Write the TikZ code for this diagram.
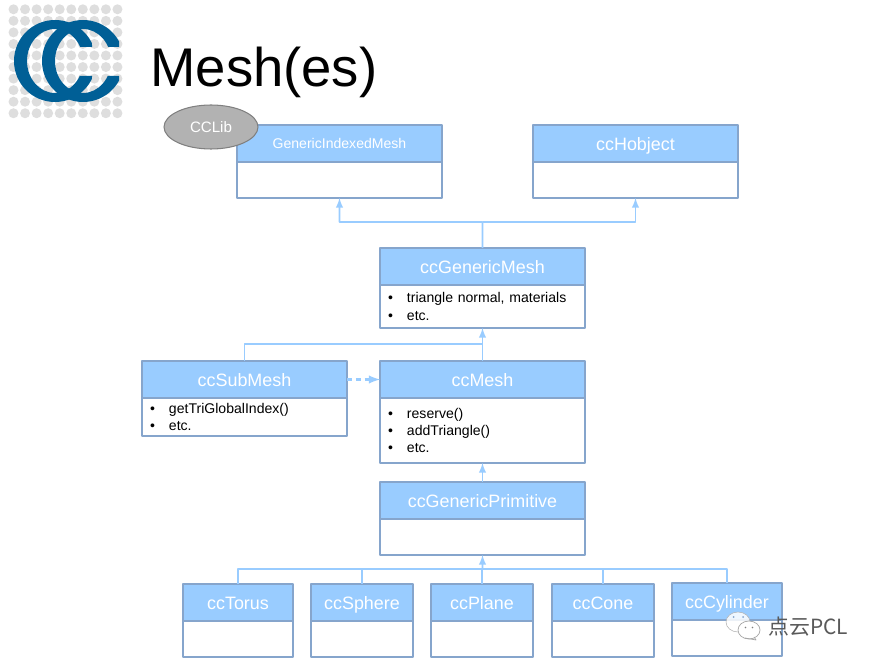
\documentclass[tikz,border=0pt]{standalone}
\usepackage{fontspec}
\setmainfont{Liberation Sans}
\newfontfamily\cjkfont{Noto Sans CJK SC}
\usetikzlibrary{positioning,shapes.geometric}
\definecolor{headblue}{HTML}{99CCFF}
\definecolor{edgeblue}{HTML}{86A5CC}
\definecolor{logoblue}{HTML}{005F96}
\definecolor{dotgray}{HTML}{DEDEDE}
\newcommand{\bulletitem}[1]{\makebox[0.38cm][l]{\textbullet}#1}
\tikzset{
	classhead/.style={draw=edgeblue, fill=headblue, line width=0.8pt, anchor=north west, inner sep=0pt, outer sep=0pt, text=white, minimum height=0.74cm, text height=0.34cm, text depth=0.06cm, font=\fontsize{10.2}{12}\selectfont},
	classbody/.style={draw=edgeblue, fill=white, line width=0.8pt, inner sep=0pt, outer sep=0pt},
	listbody/.style={classbody, align=left, inner xsep=0.16cm, text=black, font=\fontsize{8}{9.7}\selectfont},
	link/.style={draw=headblue, line width=0.9pt}
}
\begin{document}
\begin{tikzpicture}[x=0.02cm, y=-0.02cm, line join=round, >=latex]
	\useasboundingbox (0,0) rectangle (874,665);
	
	% logo: grid of dots and the two rings
	\foreach \i in {0,...,9}
		\foreach \j in {0,...,9}
			\fill[dotgray] (13.5+11.55*\i, 9.3+11.55*\j) circle (5);
	\begin{scope}
		\clip (0,0) -- (92,0) -- (92,47) -- (62,47) -- (62,76) -- (92,76) -- (92,130) -- (0,130) -- cycle;
		\fill[logoblue, even odd rule] (55,61) ellipse (41 and 41) (55,61) ellipse (28 and 32);
	\end{scope}
	\begin{scope}
		\clip (0,0) -- (119,0) -- (119,47) -- (90,47) -- (90,76) -- (119,76) -- (119,130) -- (0,130) -- cycle;
		\fill[logoblue, even odd rule] (83,61) ellipse (41 and 41) (83,61) ellipse (28 and 32);
	\end{scope}
	
	\node[anchor=west, inner sep=0pt, font=\fontsize{31}{36}\selectfont] (title) at (150,72) {Mesh(es)};
	
	% classes, header first and then the body under it
	\node[classhead, minimum width=4.1cm, font=\fontsize{8}{10}\selectfont, text height=0.27cm] (gimhead) at (237,125) {GenericIndexedMesh};
	\node[classbody, minimum width=4.1cm, minimum height=0.72cm, below=0pt of gimhead] (gimbody) {};
	\node[classhead, minimum width=4.1cm] (hobjhead) at (533,125) {ccHobject};
	\node[classbody, minimum width=4.1cm, minimum height=0.72cm, below=0pt of hobjhead] (hobjbody) {};
	
	\node[classhead, minimum width=4.1cm] (gmhead) at (380,248) {ccGenericMesh};
	\node[listbody, text width=3.78cm, minimum height=0.86cm, below=0pt of gmhead] (gmbody) {\bulletitem{triangle normal, materials}\\\bulletitem{etc.}};
	
	\node[classhead, minimum width=4.1cm] (subhead) at (142,361) {ccSubMesh};
	\node[listbody, text width=3.78cm, minimum height=0.76cm, below=0pt of subhead] (subbody) {\bulletitem{getTriGlobalIndex()}\\\bulletitem{etc.}};
	\node[classhead, minimum width=4.1cm] (meshhead) at (380,361) {ccMesh};
	\node[listbody, text width=3.78cm, minimum height=1.3cm, below=0pt of meshhead] (meshbody) {\bulletitem{reserve()}\\\bulletitem{addTriangle()}\\\bulletitem{etc.}};
	
	\node[classhead, minimum width=4.1cm] (primhead) at (380,482) {ccGenericPrimitive};
	\node[classbody, minimum width=4.1cm, minimum height=0.72cm, below=0pt of primhead] (primbody) {};
	
	\node[classhead, minimum width=2.2cm] (torus) at (183,584) {ccTorus};
	\node[classbody, minimum width=2.2cm, minimum height=0.72cm, below=0pt of torus] (torusbody) {};
	\node[classhead, minimum width=2.04cm] (sphere) at (311,584) {ccSphere};
	\node[classbody, minimum width=2.04cm, minimum height=0.72cm, below=0pt of sphere] (spherebody) {};
	\node[classhead, minimum width=2.04cm] (plane) at (431,584) {ccPlane};
	\node[classbody, minimum width=2.04cm, minimum height=0.72cm, below=0pt of plane] (planebody) {};
	\node[classhead, minimum width=2.04cm] (cone) at (552,584) {ccCone};
	\node[classbody, minimum width=2.04cm, minimum height=0.72cm, below=0pt of cone] (conebody) {};
	\node[classhead, minimum width=2.2cm] (cylinder) at (672,583) {ccCylinder};
	\node[classbody, minimum width=2.2cm, minimum height=0.72cm, below=0pt of cylinder] (cylinderbody) {};
	
	\node[ellipse, draw=gray, fill=black!30, line width=0.6pt, minimum width=1.88cm, minimum height=0.88cm, inner sep=0pt, text=white, font=\fontsize{8.6}{10}\selectfont] (cclib) at (211,127) {CCLib};
	
	% inheritance links
	\coordinate (topjoin) at (482.5,222);
	\coordinate (subjoin) at (482.5,344);
	\coordinate (primjoin) at (482.5,569);
	
	\draw[link, ->] (gmhead.north) -- (topjoin) -| (gimbody.south);
	\draw[link, ->] (topjoin) -| (hobjbody.south);
	\draw[link, ->] (meshhead.north) -- (gmbody.south);
	\draw[link] (subhead.north) |- (subjoin);
	\draw[link, ->, line width=1.2pt, dash pattern=on 3pt off 2pt] (subhead.east) -- (meshhead.west);
	\draw[link, ->] (primhead.north) -- (meshbody.south);
	\foreach \c in {torus,sphere,plane,cone,cylinder}
		\draw[link] (\c.north) |- (primjoin);
	\draw[link, ->] (primjoin) -- (primbody.south);
	
	% chat mark in the corner
	\draw[gray!60, fill=white, fill opacity=0.85, line width=0.3pt] (738,622) ellipse (12 and 10);
	\fill[edgeblue] (733.5,617) circle (1) (743,617) circle (1);
	\draw[gray!70, fill=white, line width=0.4pt] (749,630) ellipse (11 and 9);
	\draw[gray!70, line width=0.4pt] (745,638) -- (756,640) -- (754,637);
	\fill[gray] (745.5,627.5) circle (0.8) (752.5,627.5) circle (0.8);
	\node[anchor=west, inner sep=0pt, text=black!65, font=\cjkfont\fontsize{11.9}{13}\selectfont] (mark) at (768,627) {点云PCL};
\end{tikzpicture}
\end{document}
